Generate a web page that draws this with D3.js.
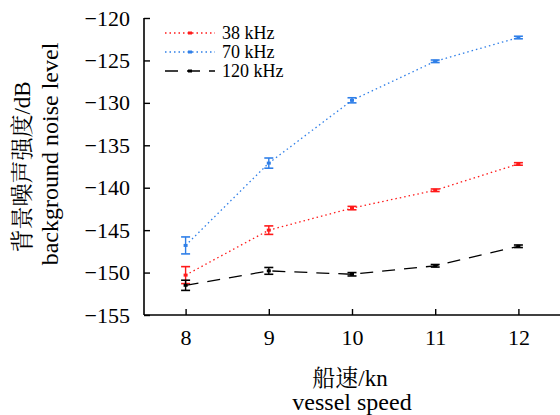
<!DOCTYPE html>
<html>
<head>
<meta charset="utf-8">
<script src="https://cdn.jsdelivr.net/npm/d3@7"></script>
<style>
  html, body { margin: 0; padding: 0; background: #fff; }
</style>
</head>
<body>
<div id="chart"></div>
<script>
// vessel speed vs background noise level
var speeds = [8, 9, 10, 11, 12];
var yTicks = [-120, -125, -130, -135, -140, -145, -150, -155];

var noise38 = [-150.3, -145.0, -142.4, -140.3, -137.2];
var err38 = [1.0, 0.5, 0.2, 0.15, 0.15];
var noise70 = [-146.8, -137.1, -129.7, -125.1, -122.3];
var err70 = [1.0, 0.6, 0.3, 0.15, 0.15];
var noise120 = [-151.5, -149.8, -150.2, -149.2, -146.9];
var err120 = [0.6, 0.4, 0.2, 0.15, 0.15];

var seriesNames = ['38 kHz', '70 kHz', '120 kHz'];

(function() {
  var width = 560, height = 415;
  var font = "'Liberation Serif', 'Noto Serif CJK SC', serif";
  var svg = d3.select('#chart').append('svg').attr('width', width).attr('height', height);

  var x = d3.scaleLinear().domain([7.5, 12.5]).range([144, 560]);
  var y = d3.scaleLinear().domain([-155, -120]).range([315, 18]);

  var series = [
    { name: seriesNames[0], vals: noise38, err: err38, color: '#ff1a1a', dash: '1.5,3' },
    { name: seriesNames[1], vals: noise70, err: err70, color: '#2f7fe8', dash: '1.5,3' },
    { name: seriesNames[2], vals: noise120, err: err120, color: '#000', dash: '13,9' }
  ];

  function addText(sel) { return sel.append('text').style('font-family', font).attr('fill', '#000'); }

  // axes (ticks inward)
  var minus = function(d) { return String(d).replace('-', '\u2212'); };
  svg.append('g').attr('transform', 'translate(144,0)')
    .call(d3.axisLeft(y).tickValues(yTicks).tickSize(-6).tickPadding(14).tickFormat(minus))
    .call(function(g) {
      g.attr('font-family', null).attr('font-size', 22);
      g.select('.domain').attr('stroke-width', 1.6).attr('d', 'M0,' + y(-120) + 'V' + y(-155));
      g.selectAll('text').style('font-family', font).attr('fill', '#000');
      g.selectAll('line').attr('stroke-width', 1.4);
    });
  svg.append('g').attr('transform', 'translate(0,315)')
    .call(d3.axisBottom(x).tickValues(speeds).tickSize(-6).tickPadding(14).tickFormat(d3.format('d')))
    .call(function(g) {
      g.attr('font-family', null).attr('font-size', 22);
      g.select('.domain').attr('stroke-width', 1.6).attr('d', 'M144,0H560');
      g.selectAll('text').style('font-family', font).attr('fill', '#000');
      g.selectAll('line').attr('stroke-width', 1.4);
    });

  // axis titles
  addText(svg).attr('x', 350).attr('y', 386).attr('text-anchor', 'middle')
    .attr('font-size', 23).text('船速/kn');
  addText(svg).attr('x', 352).attr('y', 410).attr('text-anchor', 'middle')
    .attr('font-size', 24).text('vessel speed');
  addText(svg).attr('transform', 'translate(30,167) rotate(-90)').attr('text-anchor', 'middle')
    .attr('font-size', 23).text('背景噪声强度/dB');
  addText(svg).attr('transform', 'translate(58,154) rotate(-90)').attr('text-anchor', 'middle')
    .attr('font-size', 24).text('background noise level');

  var line = d3.line().x(function(d, i) { return x(speeds[i]); }).y(function(d) { return y(d); });

  series.forEach(function(s) {
    var g = svg.append('g');
    g.append('path').datum(s.vals).attr('d', line).attr('fill', 'none')
      .attr('stroke', s.color).attr('stroke-width', 1.3).attr('stroke-dasharray', s.dash);
    s.vals.forEach(function(v, i) {
      var cx = x(speeds[i]), y0 = y(v - s.err[i]), y1 = y(v + s.err[i]);
      g.append('line').attr('x1', cx).attr('x2', cx).attr('y1', y0).attr('y2', y1)
        .attr('stroke', s.color).attr('stroke-width', 1.4);
      [y0, y1].forEach(function(yy) {
        g.append('line').attr('x1', cx - 4.5).attr('x2', cx + 4.5).attr('y1', yy).attr('y2', yy)
          .attr('stroke', s.color).attr('stroke-width', 1.6);
      });
      g.append('rect').attr('x', cx - 2).attr('y', y(v) - 1.5).attr('width', 4).attr('height', 3)
        .attr('fill', s.color);
    });
  });

  // legend
  var legend = svg.append('g');
  series.forEach(function(s, i) {
    var ly = 33 + i * 19;
    legend.append('line').attr('x1', 165).attr('x2', 215).attr('y1', ly).attr('y2', ly)
      .attr('stroke', s.color).attr('stroke-width', 1.3).attr('stroke-dasharray', s.dash);
    legend.append('rect').attr('x', 188).attr('y', ly - 1.5).attr('width', 4).attr('height', 3).attr('fill', s.color);
    addText(legend).attr('x', 222).attr('y', ly + 6).attr('font-size', 18).text(s.name);
  });
})();
</script>
</body>
</html>
